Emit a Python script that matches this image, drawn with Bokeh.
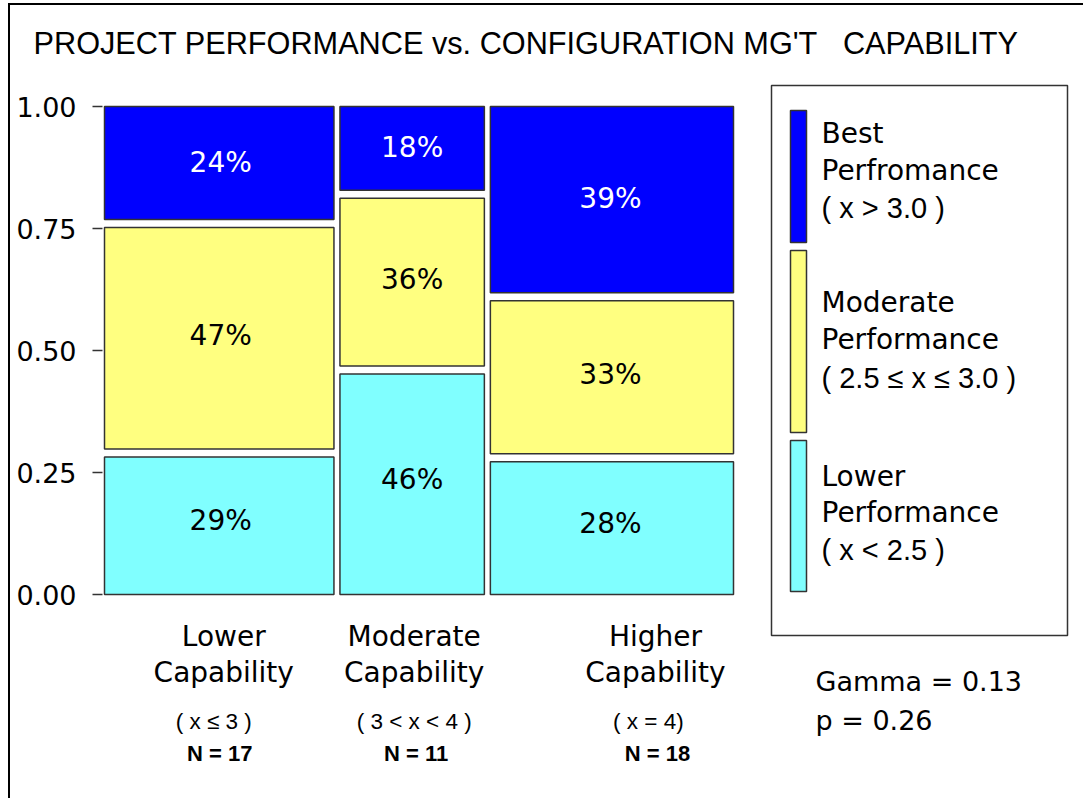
from bokeh.plotting import figure
from bokeh.models import (Range1d, FixedTicker, Label, BoxAnnotation,
                          ColumnDataSource, PrintfTickFormatter)
from bokeh.core.properties import value
from bokeh.embed import file_html
from bokeh.resources import INLINE

# ---------------- data ----------------
title_text = "PROJECT PERFORMANCE vs. CONFIGURATION MG'T\u00a0\u00a0\u00a0CAPABILITY"
capability_line1 = ["Lower", "Moderate", "Higher"]
capability_line2 = ["Capability", "Capability", "Capability"]
criteria = ["( x \u2264 3 )", "( 3 < x < 4 )", "( x = 4)"]
n_projects = [17, 11, 18]
lower_pct = [29, 46, 28]      # bottom segment (cyan)
moderate_pct = [47, 36, 33]   # middle segment (yellow)
best_pct = [24, 18, 39]       # top segment (blue)
perf_labels = [
    ["Best", "Perfromance", "( x > 3.0 )"],
    ["Moderate", "Performance", "( 2.5 \u2264 x \u2264 3.0 )"],
    ["Lower", "Performance", "( x < 2.5 )"],
]
y_ticks = [0.0, 0.25, 0.5, 0.75, 1.0]
gamma_text = "Gamma = 0.13"
p_text = "p = 0.26"

# ---------------- style / layout ----------------
FONT = "DejaVu Sans"
TFONT = "Liberation Sans"
BLUE, YELLOW, CYAN = "#0000ff", "#ffff80", "#80ffff"
EDGE = "#333333"
ORIGIN_X, ORIGIN_Y = 10, 5            # page position of figure content
FIG_W, FIG_H = 1075, 795
TITLE_H = 72
# frame in page pixels
F_LEFT, F_TOP = 102, ORIGIN_Y + TITLE_H
F_RIGHT, F_BOTTOM = ORIGIN_X + FIG_W, ORIGIN_Y + FIG_H
X0_PX, X1_PX = 104, 733      # page x of share 0 and share 1
Y0_PX, Y1_PX = 594, 106      # page y of 0.00 and 1.00
PX_X = X1_PX - X0_PX
PX_Y = Y0_PX - Y1_PX
GAP_X = 3.0 / PX_X
GAP_Y = 4.0 / PX_Y


def sx(px):
    return px - F_LEFT


def sy(py):
    return F_BOTTOM - py


p = figure(width=FIG_W, height=FIG_H, output_backend="svg", toolbar_location=None,
           x_range=Range1d((F_LEFT - X0_PX) / PX_X, (F_RIGHT - X0_PX) / PX_X),
           y_range=Range1d((Y0_PX - F_BOTTOM) / PX_Y, (Y0_PX - F_TOP) / PX_Y),
           x_axis_location=None, title=title_text,
           min_border_left=F_LEFT - ORIGIN_X, min_border_right=0,
           min_border_top=TITLE_H, min_border_bottom=0,
           styles={"margin-left": "8px", "margin-top": "3px",
                   "border-left": "2px solid black", "border-top": "2px solid black"})
p.title.align = "left"
p.title.offset = 33 - F_LEFT
p.title.vertical_align = "top"
p.title.standoff = 30
p.title.text_font = TFONT
p.title.text_font_size = "30.7px"
p.title.text_font_style = "normal"
p.title.text_color = "black"
p.outline_line_color = None
p.grid.visible = False
p.background_fill_color = "white"
p.border_fill_color = "white"

ax = p.yaxis[0]
ax.ticker = FixedTicker(ticks=y_ticks)
ax.formatter = PrintfTickFormatter(format="%.2f")
ax.axis_line_color = None
ax.major_tick_out = 10
ax.major_tick_in = 0
ax.major_tick_line_color = "#333333"
ax.major_tick_line_width = 1.5
ax.minor_tick_line_color = None
ax.major_label_standoff = 16
ax.major_label_text_font = FONT
ax.major_label_text_font_size = "27px"
ax.major_label_text_color = "black"

# ---------------- mosaic bars ----------------
total = sum(n_projects)
lefts, rights, bottoms, tops, colors = [], [], [], [], []
tx, ty, tt, tc = [], [], [], []
centers = []
cum = 0
for i, n in enumerate(n_projects):
    a = cum / total
    b = (cum + n) / total
    cum += n
    l = a + (GAP_X if i > 0 else 0)
    r = b - (GAP_X if i < len(n_projects) - 1 else 0)
    centers.append((a + b) / 2)
    segs = [(lower_pct[i], CYAN, "black"), (moderate_pct[i], YELLOW, "black"),
            (best_pct[i], BLUE, "white")]
    y = 0.0
    for j, (v, col, tcol) in enumerate(segs):
        y0 = y
        y1 = y + v / 100.0
        y = y1
        bot = y0 + (GAP_Y if j > 0 else 0)
        top = y1 - (GAP_Y if j < len(segs) - 1 else 0)
        lefts.append(l); rights.append(r); bottoms.append(bot); tops.append(top)
        colors.append(col)
        tx.append((a + b) / 2); ty.append((y0 + y1) / 2)
        tt.append(f"{v}%"); tc.append(tcol)

bars = ColumnDataSource(dict(left=lefts, right=rights, bottom=bottoms, top=tops, color=colors))
p.quad(left="left", right="right", bottom="bottom", top="top", fill_color="color",
       line_color=EDGE, line_width=1.5, source=bars)

txt = ColumnDataSource(dict(x=tx, y=ty, text=tt, color=tc))
p.text(x="x", y="y", text="text", text_color="color", source=txt,
       text_font=value(FONT), text_font_size="28px", text_align="center",
       text_baseline="middle", y_offset=-3)


def add_label(x, y, text, size, style="normal", align="left", color="black",
              x_units="screen", x_offset=0, font=FONT):
    p.add_layout(Label(x=x, y=y, x_units=x_units, y_units="screen", text=text,
                       x_offset=x_offset, text_font=font, text_font_size=size,
                       text_font_style=style, text_align=align,
                       text_baseline="middle", text_color=color))


# category labels (below columns)
label_offsets = [3, 2, 45]
crit_offsets = [-7, 2, 38]
n_offsets = [-1, 4, 47]
for i in range(3):
    add_label(centers[i], sy(636), capability_line1[i], "28px", align="center",
              x_units="data", x_offset=label_offsets[i])
    add_label(centers[i], sy(672), capability_line2[i], "28px", align="center",
              x_units="data", x_offset=label_offsets[i])
    add_label(centers[i], sy(721), criteria[i], "22.5px", align="center",
              x_units="data", x_offset=crit_offsets[i], font=TFONT)
    add_label(centers[i], sy(753), f"N = {n_projects[i]}", "22px", style="bold",
              align="center", x_units="data", x_offset=n_offsets[i], font=TFONT)

# legend box
p.add_layout(BoxAnnotation(left=sx(771), right=sx(1067), top=sy(85), bottom=sy(635),
                           left_units="screen", right_units="screen",
                           top_units="screen", bottom_units="screen",
                           fill_alpha=0, line_color=EDGE, line_width=1.5, line_alpha=1))
swatches = [(BLUE, 110, 242), (YELLOW, 250, 432), (CYAN, 440, 591)]
line_ys = [[133, 170, 207], [302, 339, 377], [476, 512, 549]]
for k, (col, t, b) in enumerate(swatches):
    p.add_layout(BoxAnnotation(left=sx(790), right=sx(806), top=sy(t), bottom=sy(b),
                               left_units="screen", right_units="screen",
                               top_units="screen", bottom_units="screen",
                               fill_color=col, fill_alpha=1, line_color=EDGE,
                               line_width=1.5, line_alpha=1))
    for m, (line, yy) in enumerate(zip(perf_labels[k], line_ys[k])):
        if m == 2:
            add_label(sx(821), sy(yy), line, "29px", font=TFONT)
        else:
            add_label(sx(821), sy(yy), line, "28px")

# statistics
add_label(sx(815), sy(681), gamma_text, "27px")
add_label(sx(815), sy(720), p_text, "27px")

open("out.html", "w").write(file_html(p, INLINE))
